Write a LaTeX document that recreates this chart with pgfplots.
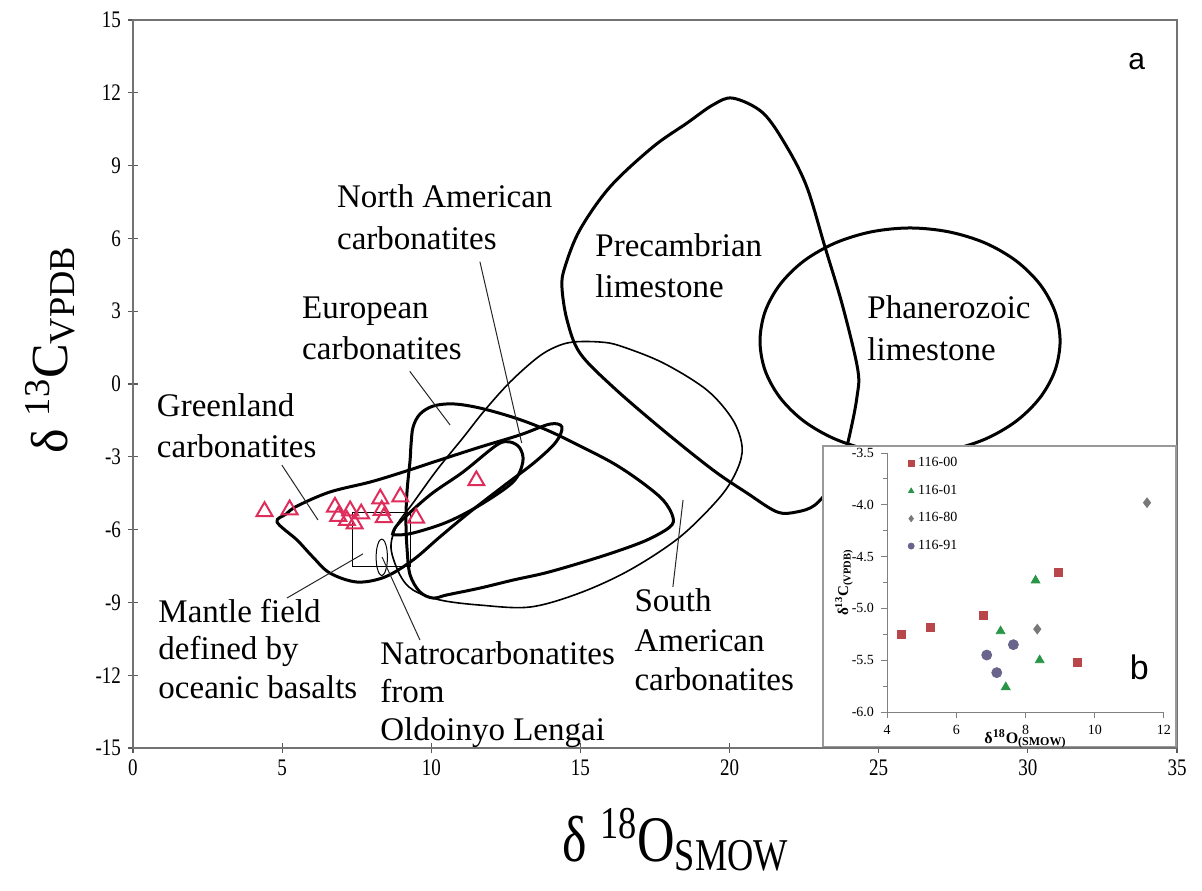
\documentclass[border=0pt]{standalone}
\usepackage{fontspec}
\setmainfont{Liberation Serif}
\setsansfont{Liberation Sans}
\newfontfamily\tnr{Liberation Serif}
\usepackage{graphicx}
\usepackage{pgfplots}
\pgfplotsset{compat=1.18}

\definecolor{tri}{RGB}{222,45,90}
\definecolor{cA}{RGB}{185,70,75}
\definecolor{cB}{RGB}{40,150,70}
\definecolor{cC}{RGB}{120,120,120}
\definecolor{cD}{RGB}{105,100,140}

\pgfplotsset{
  thickc/.style={black, line width=1.5pt, smooth cycle, tension=0.55},
  thinc/.style={black, line width=0.8pt, smooth cycle, tension=0.55},
  leader/.style={black!85, line width=0.5pt},
}
\tikzset{lab/.style={anchor=base west, inner sep=0pt, font=\tnr\fontsize{16.5}{19}\selectfont}}

\begin{document}
\begin{tikzpicture}[font=\tnr]
\begin{axis}[
  name=main, at={(0,0)}, anchor=south west,
  width=522pt, height=364pt, scale only axis,
  xmin=0, xmax=35, ymin=-15, ymax=15,
  xtick={0,5,...,35}, ytick={-15,-12,...,15},
  xtick pos=left, ytick pos=left,
  tick align=center, major tick length=5pt,
  axis line style={black!55, line width=0.6pt},
  every tick/.style={black!65, line width=0.6pt},
  ticklabel style={font=\tnr\fontsize{9.5}{11}\selectfont},
  /pgf/number format/assume math mode=true,
  xticklabel={\scalebox{1}[1.25]{\pgfmathprintnumber{\tick}}},
  yticklabel={\scalebox{1}[1.25]{\pgfmathprintnumber{\tick}}},
  xlabel={\scalebox{1}[1.25]{δ \textsuperscript{18}O\textsubscript{SMOW}}},
  ylabel={δ \textsuperscript{13}C\textsubscript{VPDB}},
  xlabel style={font=\tnr\fontsize{26}{30}\selectfont, at={(axis description cs:0.52,-0.126)}, anchor=center},
  ylabel style={font=\tnr\fontsize{26}{30}\selectfont, at={(axis description cs:-0.0795,0.547)}, anchor=center},
  clip=false,
]
% Precambrian limestone
\addplot[thickc] coordinates {
(20.11,11.78) (21.12,11.17) (21.92,9.77) (22.59,8.12) (23.20,5.64) (23.80,3.17)
(24.30,0.58) (24.27,-0.54) (24.04,-2.02) (23.80,-3.13) (23.43,-4.16) (22.86,-4.99)
(22.26,-5.27) (21.59,-5.27) (20.58,-4.49) (19.44,-3.54) (17.77,-1.90) (16.09,-0.12)
(14.98,1.28) (14.55,2.64) (14.38,4.00) (14.48,4.82) (14.98,6.35) (15.99,8.12)
(17.43,9.77) (18.57,10.75) (19.44,11.50)};
% Phanerozoic limestone
\addplot[thickc] coordinates {
(31.08,1.77) (30.91,2.98) (30.41,4.10) (29.61,5.07) (28.57,5.81) (27.35,6.27)
(26.05,6.43) (24.75,6.27) (23.54,5.81) (22.49,5.07) (21.69,4.10) (21.19,2.98)
(21.02,1.77) (21.19,0.56) (21.69,-0.56) (22.49,-1.53) (23.54,-2.27) (24.75,-2.73)
(26.05,-2.89) (27.35,-2.73) (28.57,-2.27) (29.61,-1.53) (30.41,-0.56) (30.91,0.56)};
% South American carbonatites
\addplot[thinc] coordinates {
(8.65,-6.76) (8.85,-5.81) (9.39,-4.90) (10.19,-3.54) (11.06,-2.22) (11.80,-1.07)
(12.64,0.08) (13.54,1.07) (14.15,1.52) (14.75,1.73) (15.66,1.73) (16.33,1.57)
(17.77,0.87) (19.24,-0.25) (20.11,-1.48) (20.42,-2.60) (20.25,-3.54) (19.68,-4.66)
(18.34,-6.30) (16.66,-7.66) (14.98,-8.61) (13.31,-9.19) (11.63,-9.11) (10.29,-8.90)
(9.39,-8.49) (8.95,-7.87)};
% European carbonatites
\addplot[thickc] coordinates {
(9.39,-1.77) (9.62,-1.24) (10.06,-0.91) (10.73,-0.82) (11.63,-0.99) (12.81,-1.40)
(13.88,-1.90) (14.98,-2.55) (16.09,-3.26) (17.00,-4.00) (17.77,-4.78) (18.10,-5.48)
(18.00,-5.89) (17.23,-6.43) (16.16,-6.92) (14.98,-7.38) (13.81,-7.79) (12.74,-8.08)
(11.63,-8.41) (10.53,-8.69) (10.06,-8.82) (9.62,-8.57) (9.29,-7.87) (9.19,-6.84)
(9.15,-5.60) (9.19,-4.37) (9.29,-3.13) (9.32,-2.51)};
% North American carbonatites
\addplot[thickc] coordinates {
(8.72,-6.10) (8.95,-5.69) (9.96,-4.57) (11.06,-3.63) (12.20,-2.51) (12.64,-2.39)
(12.97,-2.64) (13.07,-3.21) (12.74,-4.04) (11.63,-4.99) (10.53,-5.69) (9.39,-6.14)
(8.78,-6.22)};
% Greenland carbonatites
\addplot[thickc] coordinates {
(4.83,-5.69) (5.13,-5.36) (5.50,-5.03) (6.60,-4.45) (7.95,-4.04) (9.05,-3.63)
(10.29,-3.13) (11.63,-2.60) (12.97,-2.10) (13.98,-1.65) (14.38,-1.77) (14.18,-2.39)
(13.48,-3.21) (12.47,-4.16) (11.30,-5.27) (10.29,-6.30) (9.39,-7.25) (8.45,-7.95)
(7.51,-8.16) (6.60,-7.79) (6.03,-7.13) (5.50,-6.43)};
% Mantle field box
\addplot[black, line width=0.6pt] coordinates {(7.37,-5.29) (9.29,-5.29) (9.29,-7.53) (7.37,-7.53) (7.37,-5.29)};
% Natrocarbonatite ellipse
\addplot[black, line width=0.5pt, smooth cycle] coordinates {
(8.53,-7.14) (8.505,-6.765) (8.435,-6.49) (8.34,-6.39) (8.245,-6.49) (8.175,-6.765)
(8.15,-7.14) (8.175,-7.515) (8.245,-7.79) (8.34,-7.89) (8.435,-7.79) (8.505,-7.515)};
% leader lines
\addplot[leader] coordinates {(4.99,-3.34) (6.20,-5.60)};
\addplot[leader] coordinates {(9.28,0.52) (10.63,-1.69)};
\addplot[leader] coordinates {(11.63,5.04) (13.03,-2.43)};
\addplot[leader] coordinates {(18.10,-8.36) (18.44,-4.78)};
\addplot[leader] coordinates {(5.16,-8.82) (7.71,-7.00)};
\addplot[leader] coordinates {(8.35,-7.13) (9.62,-10.55)};
% samples
\addplot[only marks, mark=triangle, mark size=4.6pt, mark options={tri, line width=1pt}] coordinates {
(4.41,-5.25) (5.25,-5.18) (6.77,-5.07) (8.96,-4.65) (9.49,-5.52)
(8.29,-4.73) (7.28,-5.22) (8.41,-5.50) (7.43,-5.76)
(11.51,-3.98) (8.34,-5.20)
(6.88,-5.45) (7.65,-5.35) (7.17,-5.62)};
% labels
\node[lab] at (axis cs:6.83,7.28) {North American};
\node[lab] at (axis cs:6.83,5.55) {carbonatites};
\node[lab] at (axis cs:15.49,5.27) {Precambrian};
\node[lab] at (axis cs:15.49,3.58) {limestone};
\node[lab] at (axis cs:24.61,2.68) {Phanerozoic};
\node[lab] at (axis cs:24.61,0.95) {limestone};
\node[lab] at (axis cs:5.66,2.68) {European};
\node[lab] at (axis cs:5.66,0.99) {carbonatites};
\node[lab] at (axis cs:0.79,-1.35) {Greenland};
\node[lab] at (axis cs:0.79,-3.02) {carbonatites};
\node[lab] at (axis cs:0.84,-9.81) {Mantle field};
\node[lab] at (axis cs:0.84,-11.37) {defined by};
\node[lab] at (axis cs:0.84,-12.94) {oceanic basalts};
\node[lab] at (axis cs:8.28,-11.54) {Natrocarbonatites};
\node[lab] at (axis cs:8.28,-13.14) {from};
\node[lab] at (axis cs:8.28,-14.67) {Oldoinyo Lengai};
\node[lab] at (axis cs:16.80,-9.39) {South};
\node[lab] at (axis cs:16.80,-11.04) {American};
\node[lab] at (axis cs:16.80,-12.61) {carbonatites};
\node[anchor=base west, inner sep=0pt, font=\sffamily\fontsize{15}{18}\selectfont] at (axis cs:33.36,12.94) {a};
\end{axis}

% inset frame
\draw[black!40, line width=0.6pt, fill=white] (345pt,0.8pt) rectangle (521.5pt,151pt);

\begin{axis}[
  name=inset, at={(377pt,18pt)}, anchor=south west,
  width=138.5pt, height=129.5pt, scale only axis,
  xmin=4, xmax=12, ymin=-6, ymax=-3.5,
  xtick={4,6,8,10,12}, ytick={-6,-5.5,-5,-4.5,-4,-3.5},
  minor y tick num=1,
  axis x line*=bottom, axis y line*=left,
  tick align=outside, major tick length=3pt, minor tick length=2pt,
  axis line style={black!50, line width=0.5pt},
  every tick/.style={black!50, line width=0.5pt},
  ticklabel style={font=\tnr\fontsize{7}{8}\selectfont},
  yticklabel style={/pgf/number format/.cd, fixed, fixed zerofill, precision=1},
  /pgf/number format/assume math mode=true,
  xlabel={\bfseries δ\textsuperscript{18}O\textsubscript{(SMOW)}},
  ylabel={\bfseries δ\textsuperscript{13}C\textsubscript{(VPDB)}},
  xlabel style={font=\tnr\fontsize{8}{9}\selectfont, at={(axis description cs:0.5,-0.104)}, anchor=center},
  ylabel style={font=\tnr\fontsize{7.5}{9}\selectfont, at={(axis description cs:-0.155,0.5)}, anchor=center},
  legend style={at={(axis description cs:0.075,1.0)}, anchor=north west, draw=none, fill=none,
    font=\tnr\fontsize{7}{8}\selectfont, row sep=3.6pt, inner sep=0pt},
  legend cell align=left,
  legend image code/.code={\draw[#1, mark size=1.5pt] plot coordinates {(0.12cm,0cm)};},
  clip=false,
]
\addplot[only marks, mark=square*, mark size=2pt, color=cA] coordinates {
(4.41,-5.25) (5.25,-5.18) (6.77,-5.07) (8.96,-4.65) (9.49,-5.52)};
\addlegendentry{116-00}
\addplot[only marks, mark=triangle*, mark size=2.5pt, color=cB] coordinates {
(8.29,-4.73) (7.28,-5.22) (8.41,-5.50) (7.43,-5.76)};
\addlegendentry{116-01}
\addplot[only marks, mark=diamond*, mark size=2.4pt, color=cC] coordinates {
(11.51,-3.98) (8.34,-5.20)};
\addlegendentry{116-80}
\addplot[only marks, mark=*, mark size=2.5pt, color=cD] coordinates {
(6.88,-5.45) (7.65,-5.35) (7.17,-5.62)};
\addlegendentry{116-91}
\node[anchor=base west, inner sep=0pt, font=\sffamily\fontsize{17}{20}\selectfont] at (axis cs:11.0,-5.69) {b};
\end{axis}

\pgfresetboundingbox
\path (-66.5pt,-71pt) rectangle (534.5pt,374pt);
\end{tikzpicture}
\end{document}
